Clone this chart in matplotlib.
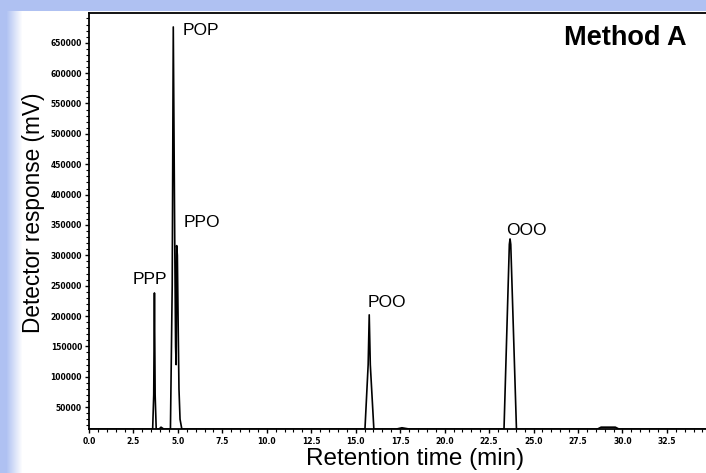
import matplotlib.pyplot as plt
import numpy as np
from matplotlib.ticker import MultipleLocator, FormatStrFormatter

# chromatogram trace (min, mV)
tiempos = [0.0, 3.58, 3.64, 3.68, 3.72, 3.78, 3.95, 4.05, 4.20,
           4.58, 4.68, 4.74, 4.82, 4.87, 4.90, 4.93, 4.97, 5.02, 5.06, 5.12, 5.22,
           15.52, 15.70, 15.76, 15.82, 16.02,
           17.3, 17.6, 18.0,
           23.34, 23.64, 23.68, 23.72, 24.04,
           28.6, 28.8, 29.6, 29.8, 34.7]
respuesta = [14000, 14000, 70000, 238000, 70000, 14000, 14000, 17000, 14000,
             14000, 250000, 676000, 330000, 150000, 120000, 316000, 300000, 172000, 80000, 30000, 14000,
             14000, 120000, 202000, 120000, 14000,
             14000, 16000, 14000,
             14000, 318000, 327000, 318000, 14000,
             14000, 17000, 17000, 14000, 14000]

picos = ['PPP', 'POP', 'PPO', 'POO', 'OOO']
etiqueta_x = [3.45, 6.29, 6.36, 16.76, 24.58]
etiqueta_y = [260000, 670000, 354500, 221800, 340500]

W, H = 706, 473
fig = plt.figure(figsize=(W / 100, H / 100), dpi=100)
fig.patch.set_facecolor('white')

# light blue frame of the screenshot (left strip + top band)
azul = np.array([0.69, 0.76, 0.95])
img = np.ones((H, W, 3))
cols = np.arange(W)
mezcla = np.clip((cols - 6) / 16.0, 0, 1)
for c in range(3):
    img[:, :, c] = azul[c] + (1 - azul[c]) * mezcla
img[:12, :, :] = azul
bg = fig.add_axes([0, 0, 1, 1], zorder=-1)
bg.imshow(img, aspect='auto')
bg.axis('off')

ax = fig.add_axes([89 / W, 44 / H, 1 - 89 / W, 416 / H])
ax.set_facecolor('white')
ax.plot(tiempos, respuesta, color='black', linewidth=1.2)

ax.set_xlim(0, 34.7)
ax.set_ylim(14000, 699000)
ax.spines['right'].set_visible(False)
for s in ['left', 'bottom', 'top']:
    ax.spines[s].set_linewidth(1.3)

ax.xaxis.set_major_locator(MultipleLocator(2.5))
ax.xaxis.set_minor_locator(MultipleLocator(0.5))
ax.xaxis.set_major_formatter(FormatStrFormatter('%.1f'))
ax.yaxis.set_major_locator(MultipleLocator(50000))
ax.yaxis.set_minor_locator(MultipleLocator(10000))
ax.yaxis.set_major_formatter(FormatStrFormatter('%d'))
ax.tick_params(which='major', direction='out', length=3, width=1, pad=2)
ax.tick_params(which='minor', direction='out', length=2, width=0.8)
ax.tick_params(axis='x', which='major', pad=3)
for lab in ax.get_xticklabels() + ax.get_yticklabels():
    lab.set_fontsize(5.5)
    lab.set_fontweight('bold')

ax.set_xlabel('Retention time (min)', family='Liberation Sans', fontsize=17.5)
ax.set_ylabel('Detector response (mV)', family='Liberation Sans', fontsize=16.3)
ax.xaxis.set_label_coords(0.529, -0.072)
ax.xaxis.label.set_va('center')
ax.yaxis.set_label_coords(-0.09, 0.52)
ax.yaxis.label.set_va('center')

for nombre, x, y in zip(picos, etiqueta_x, etiqueta_y):
    ax.text(x, y, nombre, ha='center', va='center',
            family='Liberation Sans', fontsize=12.5)

ax.text(0.8695, 0.941, 'Method A', transform=ax.transAxes, ha='center',
        va='center', family='Liberation Sans', fontweight='bold', fontsize=19.5)

fig.savefig('out.png', dpi=100)
